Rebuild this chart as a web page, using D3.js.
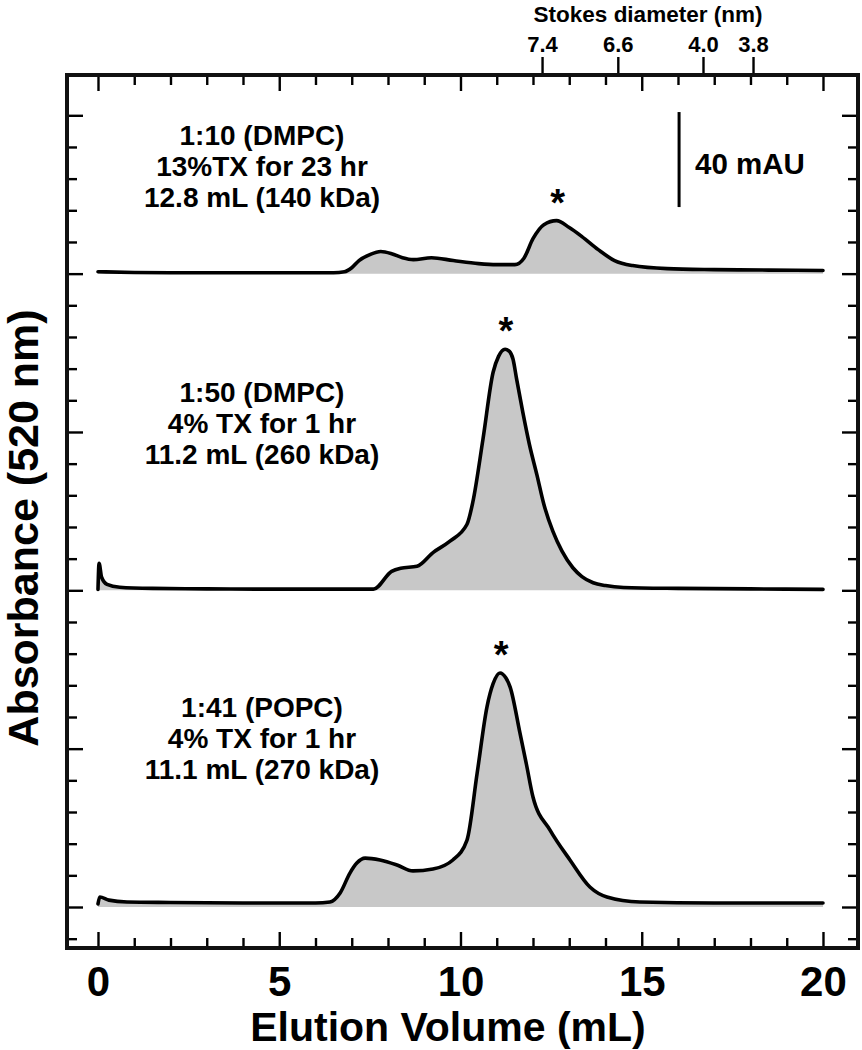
<!DOCTYPE html>
<html>
<head>
<meta charset="utf-8">
<script src="https://cdn.jsdelivr.net/npm/d3@7"></script>
<style>
  html, body { margin: 0; padding: 0; background: #fff; }
  svg { display: block; }
  text { font-family: "Liberation Sans", Arial, Helvetica, sans-serif; font-weight: bold; fill: #000; }
</style>
</head>
<body>
<svg id="chart" width="862" height="1050"></svg>
<script>
// ---------- DATA ----------
// Elution volume (mL) and absorbance above each trace's baseline (mAU)
const topVol = [0, 1, 2, 3, 4, 5, 6, 6.5, 6.8, 7.0, 7.2, 7.5, 7.8, 8.1, 8.4, 8.7, 9.2, 9.8, 10.5, 11.0, 11.5, 11.75, 12.0, 12.3, 12.65, 13.0, 13.35, 13.8, 14.25, 14.75, 15.7, 17, 18.5, 20];
const topAbs = [0.8, 0.5, 0.4, 0.4, 0.4, 0.4, 0.4, 0.4, 0.8, 2.5, 5.5, 8.0, 9.3, 8.4, 6.7, 5.9, 6.7, 5.5, 4.2, 3.8, 3.8, 6.5, 14.7, 20.6, 22.3, 19.4, 15.6, 10.1, 5.5, 3.4, 2.1, 1.7, 1.5, 1.3];

const midVol = [0, 0.03, 0.1, 0.25, 0.6, 1.5, 3, 5, 7.0, 7.6, 8.1, 8.35, 8.8, 9.25, 9.7, 10.18, 10.34, 10.62, 10.9, 11.05, 11.23, 11.35, 11.45, 11.55, 11.72, 11.9, 12.11, 12.3, 12.55, 12.8, 13.1, 13.35, 13.66, 14.0, 14.5, 16, 18, 20];
const midAbs = [0.4, 11.4, 5.5, 2.5, 1.3, 0.8, 0.6, 0.5, 0.5, 0.5, 8.0, 9.3, 10.1, 16.0, 20.6, 27.8, 37.1, 63.6, 91.8, 98.5, 101.5, 100.6, 97.3, 88.8, 74.9, 61.5, 48.5, 36.2, 24.8, 16.5, 9.5, 5.8, 3.2, 2.0, 1.2, 0.8, 0.6, 0.4];

const botVol = [0, 0.05, 0.3, 0.8, 2, 4, 6.0, 6.4, 6.68, 6.95, 7.14, 7.37, 7.78, 8.25, 8.69, 9.24, 9.79, 10.18, 10.46, 10.73, 10.9, 11.09, 11.25, 11.37, 11.64, 11.82, 12.0, 12.47, 13.02, 13.57, 14.04, 14.95, 17, 20];
const botAbs = [1.3, 4.2, 2.9, 2.1, 1.9, 1.7, 1.7, 2.1, 5.9, 14.3, 18.5, 20.6, 19.8, 17.7, 15.2, 16.0, 19.8, 28.2, 56.4, 84.2, 94.0, 98.5, 96.5, 92.6, 73.3, 60.0, 46.3, 32.4, 19.8, 8.4, 4.2, 2.1, 1.7, 1.7];

// vertical offsets of each trace (mAU)
const traceOffsets = [800 / 3, 400 / 3, 0];

// annotations
const labelsTop = ["1:10 (DMPC)", "13%TX for 23 hr", "12.8 mL (140 kDa)"];
const labelsMid = ["1:50 (DMPC)", "4% TX for 1 hr", "11.2 mL (260 kDa)"];
const labelsBot = ["1:41 (POPC)", "4% TX for 1 hr", "11.1 mL (270 kDa)"];
const peakVolumes = [12.68, 11.25, 11.12];
const peakHeights = [22.3, 101.5, 98.5];

// axes
const xMajorTicks = [0, 5, 10, 15, 20];
const xMinorTicks = [1, 2, 3, 4, 6, 7, 8, 9, 11, 12, 13, 14, 16, 17, 18, 19];
const stokesVol = [12.25, 14.34, 16.69, 18.07];
const stokesLabels = ["7.4", "6.6", "4.0", "3.8"];
const yTickStep = 40 / 3;          // mAU between ticks
const scaleBar = 40;               // mAU

// ---------- LAYOUT ----------
const frame = { left: 67, right: 858, top: 75, bottom: 948 };
const svg = d3.select("#chart");

const x = d3.scaleLinear().domain([-0.855, 20.966]).range([frame.left, frame.right]);
const y = d3.scaleLinear().domain([-17.26, 350.3]).range([frame.bottom, frame.top]);

const yTicks = d3.range(-1, 26).map(k => k * yTickStep);
const yMajor = yTicks.filter((v, i) => (i - 1) % 5 === 0);
const yMinor = yTicks.filter((v, i) => (i - 1) % 5 !== 0);

// ---------- TRACES ----------
const traces = [
  { vol: topVol, abs: topAbs, off: traceOffsets[0] },
  { vol: midVol, abs: midAbs, off: traceOffsets[1] },
  { vol: botVol, abs: botAbs, off: traceOffsets[2] }
];

traces.forEach(t => {
  const pts = t.vol.map((v, i) => [v, t.abs[i]]);
  const area = d3.area()
    .x(d => x(d[0]))
    .y0(() => y(t.off))
    .y1(d => y(t.off + d[1]))
    .curve(d3.curveMonotoneX);
  const line = d3.line()
    .x(d => x(d[0]))
    .y(d => y(t.off + d[1]))
    .curve(d3.curveMonotoneX);
  svg.append("path").attr("d", area(pts)).attr("fill", "#c8c8c8");
  svg.append("path").attr("d", line(pts)).attr("fill", "none")
    .attr("stroke", "#000").attr("stroke-width", 3.6)
    .attr("stroke-linejoin", "round").attr("stroke-linecap", "round");
});

// ---------- AXES ----------
function styleAxis(g) {
  g.select(".domain").remove();
  g.selectAll(".tick line").attr("stroke", "#000").attr("stroke-width", 2.4);
}
// bottom
svg.append("g").attr("transform", `translate(0,${frame.bottom})`)
  .call(d3.axisBottom(x).tickValues(xMajorTicks).tickSize(-16).tickPadding(22).tickFormat(d3.format("d")))
  .call(styleAxis)
  .call(g => g.selectAll("text").attr("font-size", 42).attr("dy", "0.71em").attr("y", 18));
svg.append("g").attr("transform", `translate(0,${frame.bottom})`)
  .call(d3.axisBottom(x).tickValues(xMinorTicks).tickSize(-10).tickFormat(""))
  .call(styleAxis);
// top (inward)
svg.append("g").attr("transform", `translate(0,${frame.top})`)
  .call(d3.axisTop(x).tickValues(xMajorTicks).tickSize(-16).tickFormat(""))
  .call(styleAxis);
svg.append("g").attr("transform", `translate(0,${frame.top})`)
  .call(d3.axisTop(x).tickValues(xMinorTicks).tickSize(-10).tickFormat(""))
  .call(styleAxis);
// Stokes diameter axis (outward)
svg.append("g").attr("transform", `translate(0,${frame.top})`)
  .call(d3.axisTop(x).tickValues(stokesVol).tickSize(18).tickPadding(5)
    .tickFormat((d, i) => stokesLabels[i]))
  .call(styleAxis)
  .call(g => g.selectAll("text").attr("font-size", 22));
// left / right
[["left", frame.left, d3.axisLeft], ["right", frame.right, d3.axisRight]].forEach(([side, px, axisFn]) => {
  svg.append("g").attr("transform", `translate(${px},0)`)
    .call(axisFn(y).tickValues(yMajor).tickSize(-16).tickFormat(""))
    .call(styleAxis);
  svg.append("g").attr("transform", `translate(${px},0)`)
    .call(axisFn(y).tickValues(yMinor).tickSize(-10).tickFormat(""))
    .call(styleAxis);
});

// frame
svg.append("rect")
  .attr("x", frame.left).attr("y", frame.top)
  .attr("width", frame.right - frame.left).attr("height", frame.bottom - frame.top)
  .attr("fill", "none").attr("stroke", "#111").attr("stroke-width", 4);

// axis titles
svg.append("text").attr("x", 648).attr("y", 22).attr("text-anchor", "middle")
  .attr("font-size", 22.5).text("Stokes diameter (nm)");
svg.append("text").attr("x", 448).attr("y", 1041).attr("text-anchor", "middle")
  .attr("font-size", 41).text("Elution Volume (mL)");
svg.append("text").attr("transform", "translate(38,528) rotate(-90)").attr("text-anchor", "middle")
  .attr("font-size", 43).text("Absorbance (520 nm)");

// ---------- ANNOTATIONS ----------
const labelGroups = [
  { lines: labelsTop, y0: 145 },
  { lines: labelsMid, y0: 402 },
  { lines: labelsBot, y0: 717 }
];
labelGroups.forEach(gp => {
  gp.lines.forEach((s, i) => {
    svg.append("text").attr("x", 262).attr("y", gp.y0 + i * 31)
      .attr("text-anchor", "middle").attr("font-size", 28).text(s);
  });
});

// asterisks above peaks
traces.forEach((t, i) => {
  svg.append("text")
    .attr("x", x(peakVolumes[i]))
    .attr("y", y(t.off + peakHeights[i]) - 5)
    .attr("text-anchor", "middle").attr("font-size", 38).text("*");
});

// 40 mAU scale bar
const barVol = 16.03, barBase = 294.7;
svg.append("line")
  .attr("x1", x(barVol)).attr("x2", x(barVol))
  .attr("y1", y(barBase)).attr("y2", y(barBase + scaleBar))
  .attr("stroke", "#000").attr("stroke-width", 3);
svg.append("text").attr("x", x(barVol) + 16).attr("y", 174)
  .attr("font-size", 29.5).text("40 mAU");
</script>
</body>
</html>
